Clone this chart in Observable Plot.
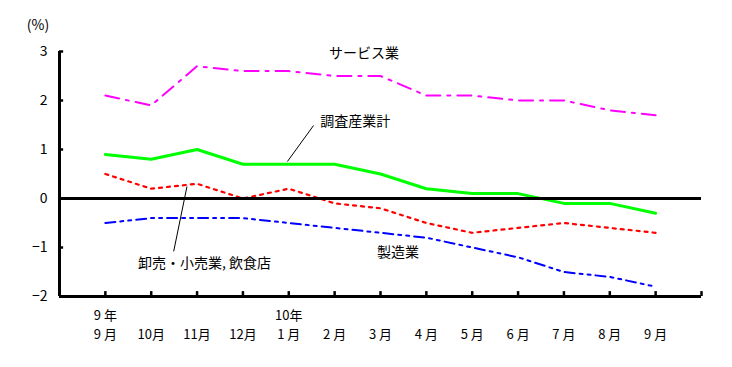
<!DOCTYPE html>
<html>
<head>
<meta charset="utf-8">
<script src="https://cdn.jsdelivr.net/npm/d3@7"></script>
<script src="https://cdn.jsdelivr.net/npm/@observablehq/plot@0.6"></script>
<style>
  html, body { margin: 0; padding: 0; background: #fff; }
  svg { display: block; }
</style>
</head>
<body>
<div id="chart"></div>
<script>
const months = ["9 月","10月","11月","12月","1 月","2 月","3 月","4 月","5 月","6 月","7 月","8 月","9 月"];
const years = ["9 年","","","","10年","","","","","","","",""];
const service = [2.1,1.9,2.7,2.6,2.6,2.5,2.5,2.1,2.1,2.0,2.0,1.8,1.7];
const total = [0.9,0.8,1.0,0.7,0.7,0.7,0.5,0.2,0.1,0.1,-0.1,-0.1,-0.3];
const wholesale = [0.5,0.2,0.3,0.0,0.2,-0.1,-0.2,-0.5,-0.7,-0.6,-0.5,-0.6,-0.7];
const manufacturing = [-0.5,-0.4,-0.4,-0.4,-0.5,-0.6,-0.7,-0.8,-1.0,-1.2,-1.5,-1.6,-1.8];
const yTicks = [-2,-1,0,1,2,3];
const yTickLabels = ["−2","−1","0","1","2","3"];
const xTicks = [1,2,3,4,5,6,7,8,9,10,11,12,13,14];

const font = "'Noto Sans CJK JP', 'Noto Sans', sans-serif";
const xi = (d, i) => i + 1;

const chart = Plot.plot({
  width: 732,
  height: 367,
  marginLeft: 59,
  marginRight: 31,
  marginTop: 51,
  marginBottom: 71,
  style: { fontFamily: font, fontSize: "14px", background: "#fff", overflow: "visible" },
  x: { domain: [0, 14], axis: null },
  y: { domain: [-2, 3], axis: null },
  marks: [
    Plot.line(service, { x: xi, y: d => d, stroke: "#ff00ff", strokeWidth: 2, strokeDasharray: "14,7,3,7" }),
    Plot.line(wholesale, { x: xi, y: d => d, stroke: "#ff0000", strokeWidth: 2.2, strokeDasharray: "3,5" }),
    Plot.line(manufacturing, { x: xi, y: d => d, stroke: "#0000ff", strokeWidth: 2, strokeDasharray: "10,5,3,5,3,5" }),
    Plot.line(total, { x: xi, y: d => d, stroke: "#00ff00", strokeWidth: 3 }),
    Plot.ruleY([0], { stroke: "#000", strokeWidth: 3 }),
    Plot.ruleY([-2], { stroke: "#000", strokeWidth: 3 }),
    Plot.ruleX([0], { stroke: "#000", strokeWidth: 3 }),
    Plot.ruleX(xTicks, { x: d => d, y1: -2, y2: -1.9, stroke: "#000", strokeWidth: 2.5 }),
    Plot.ruleY(yTicks, { y: d => d, x1: 0, x2: 0.09, stroke: "#000", strokeWidth: 2.5 }),
    Plot.text(yTickLabels, { x: 0, y: (d, i) => yTicks[i], text: d => d, dx: -12, textAnchor: "end", fontSize: 14, fill: "#000" }),
    Plot.text(months, { x: xi, y: -2, text: d => d, dy: 38, fontSize: 13, lineHeight: 1, fill: "#000" }),
    Plot.text(years, { x: xi, y: -2, text: d => d, dy: 19, fontSize: 13, lineHeight: 1, fill: "#000" }),
    Plot.text(["(%)"], { x: -0.47, y: 3.53, text: d => d, fontSize: 14, fill: "#000" }),
    Plot.text(["サービス業"], { x: 6.64, y: 2.96, text: d => d, fontSize: 14, fill: "#000" }),
    Plot.text(["調査産業計"], { x: 6.45, y: 1.57, text: d => d, fontSize: 14, fill: "#000" }),
    Plot.text(["卸売・小売業, 飲食店"], { x: 3.16, y: -1.32, text: d => d, fontSize: 14, fill: "#000" }),
    Plot.text(["製造業"], { x: 7.38, y: -1.10, text: d => d, fontSize: 14, fill: "#000" }),
    Plot.link([{ x1: 4.97, y1: 0.755, x2: 5.54, y2: 1.49 }], { x1: "x1", y1: "y1", x2: "x2", y2: "y2", stroke: "#000", strokeWidth: 1 }),
    Plot.link([{ x1: 2.49, y1: -1.08, x2: 2.78, y2: 0.245 }], { x1: "x1", y1: "y1", x2: "x2", y2: "y2", stroke: "#000", strokeWidth: 1 })
  ]
});
document.getElementById("chart").appendChild(chart);
</script>
</body>
</html>
